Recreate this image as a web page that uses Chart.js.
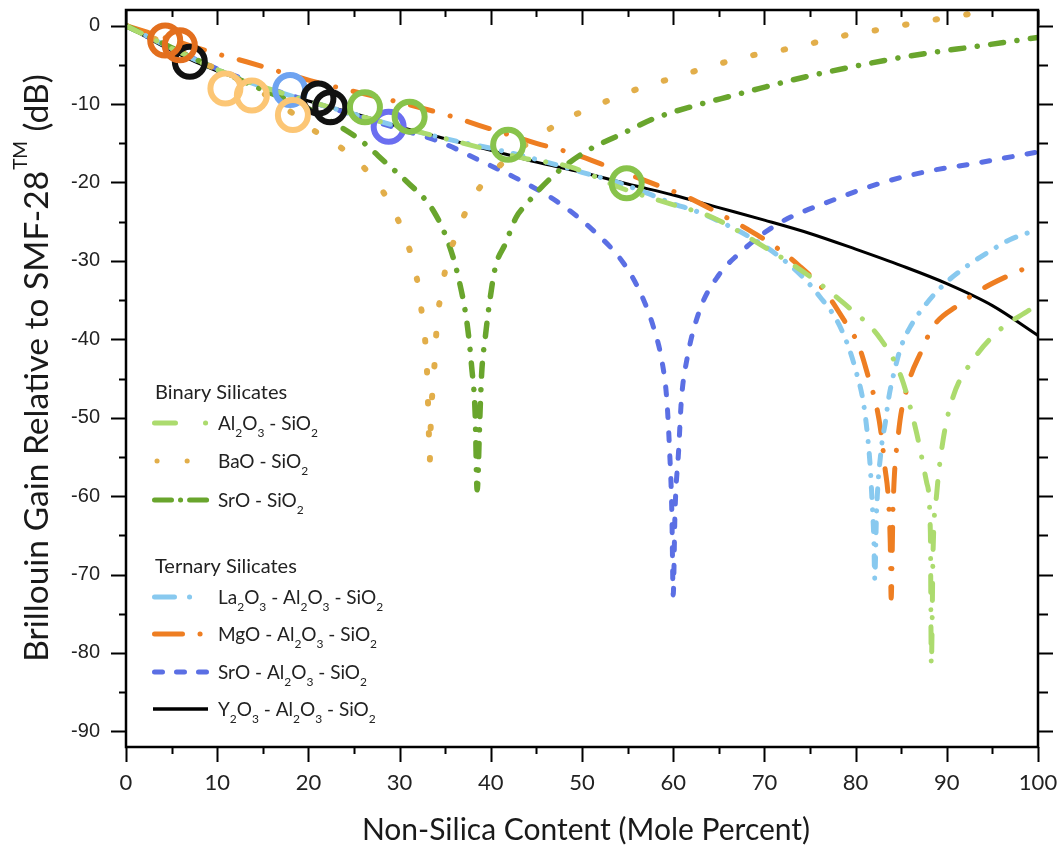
<!DOCTYPE html>
<html>
<head>
<meta charset="utf-8">
<title>Brillouin gain of silicate fibres</title>
<script src="https://cdn.jsdelivr.net/npm/chart.js@4.4.1/dist/chart.umd.min.js"></script>
<style>
  html, body { margin: 0; padding: 0; background: #fff; }
  #wrap { width: 1063px; height: 850px; position: relative; }
</style>
</head>
<body>
<div id="wrap"><canvas id="gainChart"></canvas></div>
<script>
// axis ticks
const xTickValues = [0, 10, 20, 30, 40, 50, 60, 70, 80, 90, 100];
const yTickValues = [0, -10, -20, -30, -40, -50, -60, -70, -80, -90];

// modelled gain curves, mole % vs dB
const al2o3X = [0, 5, 10, 15, 20, 25, 30, 35, 40, 44, 48.7, 54.5, 59.6, 64.2, 70.1, 75, 78.7, 82.7, 85, 86.7, 87.8, 88.2, 88.3, 88.5, 88.9, 89.6, 90.7, 92.9, 95.8, 99];
const al2o3Y = [0, -2.9, -5.6, -7.8, -9.6, -11.3, -12.9, -14.4, -15.9, -17.0, -18.0, -20.8, -22.7, -24.4, -28.3, -32.0, -35.4, -39.9, -44.8, -52.0, -58.3, -64.7, -81.5, -66.8, -59.6, -52.8, -47.3, -42.6, -38.8, -36.3];

const baoX = [0, 5, 10, 15, 18.3, 20.9, 23.5, 26, 28.2, 29.8, 31.1, 31.9, 32.4, 32.8, 33.0, 33.2, 33.3, 33.45, 33.7, 33.9, 34.1, 34.6, 35.2, 36.3, 37.5, 39.3, 47.2, 50.3, 53.4, 56.5, 59.6, 62.9, 66.2, 69.4, 72.8, 76.1, 79.4, 82.7, 86, 89.3, 92.5, 95];
const baoY = [0, -2.7, -5.6, -8.6, -11.2, -13.6, -15.5, -18, -21.2, -24.7, -28.6, -32.3, -36.3, -40.1, -43.9, -51.6, -55.6, -49.4, -45.6, -41.8, -37.9, -33.9, -30.1, -26.5, -23.1, -19.9, -12.6, -10.8, -9.3, -7.9, -6.8, -5.6, -4.5, -3.6, -2.9, -2.0, -1.1, -0.5, 0.25, 0.9, 1.5, 2.1];

const sroX = [0, 5, 10, 15, 20, 22.5, 25.7, 28.6, 30.8, 33.7, 35.5, 36.6, 37.4, 37.9, 38.3, 38.5, 38.8, 39.0, 39.4, 39.9, 40.5, 41.6, 42.8, 43.8, 46.7, 50.2, 54.2, 58, 62.4, 66.6, 69.5, 74.6, 79.4, 83.8, 88.5, 92.9, 100];
const sroY = [0, -2.8, -5.6, -8.2, -10.6, -12.2, -14.6, -17.6, -19.9, -23.6, -28.2, -32.9, -38.0, -43.5, -49.9, -59.2, -49.9, -44.3, -39.7, -35.0, -30.8, -27.8, -24.4, -22.9, -19.3, -16.2, -13.9, -11.8, -10.2, -8.9, -8.0, -6.5, -5.3, -4.3, -3.4, -2.7, -1.5];

const la2o3X = [0, 5, 10, 15, 20, 25, 30, 35, 41, 46.1, 50, 54.2, 57, 60, 62.6, 65.5, 68.6, 71.7, 74.5, 76.1, 77.9, 79.2, 80.1, 80.8, 81.2, 81.6, 81.8, 82.0, 82.1, 82.3, 82.8, 83.3, 83.6, 84.1, 85.0, 86.1, 87.8, 89.6, 91.8, 94.4, 96.9, 100];
const la2o3Y = [0, -2.9, -5.6, -7.8, -9.6, -11.3, -12.9, -14.4, -15.9, -17.4, -18.7, -20.1, -21.3, -22.7, -23.7, -25.2, -27.1, -29.5, -32.4, -34.6, -37.5, -40.9, -44.3, -47.7, -51.1, -56.2, -60.5, -65.5, -70.5, -62, -54.1, -50.3, -47.7, -44.8, -40.9, -38.2, -35.4, -33.1, -31.0, -29.0, -27.3, -26.0];

const mgoX = [0, 5, 10, 13.2, 20.2, 29.7, 35.5, 38.7, 45, 48.7, 52, 58.8, 61.8, 65.1, 68.5, 71.2, 73.7, 76.5, 78.7, 80.3, 81.4, 82.3, 82.8, 83.2, 83.6, 83.8, 83.9, 84.1, 84.7, 85.8, 87.1, 88.5, 91.3, 94, 97.3, 100];
const mgoY = [0, -1.8, -3.6, -4.6, -7.0, -9.7, -11.5, -12.7, -15.0, -16.2, -17.6, -20.6, -22.0, -24.0, -26.2, -28.2, -30.5, -33.7, -37.5, -40.7, -44.8, -48.6, -52.0, -56.2, -60.5, -66, -73.0, -61.7, -52.0, -45.6, -41.8, -38.4, -35.6, -33.5, -31.6, -30.3];

const sroAlX = [0, 5, 10, 15, 20, 25, 30, 34.4, 38.8, 43.2, 47.6, 51.4, 54.5, 56.5, 57.9, 58.8, 59.3, 59.6, 59.85, 60, 60.2, 60.6, 60.9, 61.5, 62.9, 65, 67, 71.3, 77.4, 82.7, 87.8, 92.9, 100];
const sroAlY = [0, -2.9, -5.5, -7.7, -9.6, -11.4, -13.2, -14.8, -17.2, -19.7, -22.7, -26.3, -30.2, -34.3, -38.7, -43, -47.7, -54.1, -62, -72.6, -62, -54.1, -47.7, -42.6, -36.3, -31.8, -29.3, -25.4, -22.3, -20.1, -18.6, -17.6, -16.1];

const y2o3X = [0, 5, 10, 15, 20, 25, 30, 35, 40, 45, 50, 55, 60, 65, 70, 75, 80, 85, 90, 95, 100];
const y2o3Y = [0, -3.2, -5.8, -7.8, -9.6, -11.2, -12.9, -14.4, -15.9, -17.4, -18.7, -20.2, -21.6, -23.2, -24.8, -26.5, -28.5, -30.6, -32.9, -35.7, -39.5];

// measured fibres
const mgoFibreX = [4.3, 5.9];
const mgoFibreY = [-1.9, -2.5];
const y2o3FibreX = [7.0, 21.1, 22.4];
const y2o3FibreY = [-4.6, -9.3, -10.4];
const baoFibreX = [10.9, 13.8, 18.3];
const baoFibreY = [-8.0, -8.9, -11.4];
const la2o3FibreX = [18.0];
const la2o3FibreY = [-8.2];
const sroAlFibreX = [28.8];
const sroAlFibreY = [-12.9];
const sroFibreX = [26.2, 31.1, 41.9, 54.9];
const sroFibreY = [-10.4, -11.6, -15.2, -20.1];

const pts = (xs, ys) => xs.map((x, i) => ({ x: x, y: ys[i] }));

const FONT = 'Lato, "Open Sans", sans-serif';

// curve styles; legend swatches get their own dash since they are short
const curves = [
  { key: 'al2o3', name: 'Al_2O_3 - SiO_2', x: al2o3X, y: al2o3Y, color: '#acdb6e', width: 5, dash: [17, 17, 0.1, 17], swatch: { dash: [21, 30, 0.1, 100], from: 154.5, to: 210 } },
  { key: 'bao', name: 'BaO - SiO_2', x: baoX, y: baoY, color: '#e2ae4a', width: 6, dash: [1.5, 29.5], swatch: { dash: [0.1, 30], from: 157, to: 190 } },
  { key: 'sro', name: 'SrO - SiO_2', x: sroX, y: sroY, color: '#69a52d', width: 5.5, dash: [13, 13.5, 0.1, 13.5], swatch: { dash: [17, 9, 0.1, 9, 17, 50], from: 154.5, to: 207 } },
  { key: 'la2o3', name: 'La_2O_3 - Al_2O_3 - SiO_2', x: la2o3X, y: la2o3Y, color: '#88c9ef', width: 5, dash: [10, 12, 0.1, 12], swatch: { dash: [20, 15, 0.1, 100], from: 154.5, to: 192 } },
  { key: 'mgo', name: 'MgO - Al_2O_3 - SiO_2', x: mgoX, y: mgoY, color: '#ee7e22', width: 5, dash: [23, 18, 0.1, 18], swatch: { dash: [28, 17.5, 0.1, 100], from: 154.5, to: 202 } },
  { key: 'sroAl', name: 'SrO - Al_2O_3 - SiO_2', x: sroAlX, y: sroAlY, color: '#5b6fe4', width: 5, dash: [8, 15], swatch: { dash: [8, 14], from: 154.5, to: 207 } },
  { key: 'y2o3', name: 'Y_2O_3 - Al_2O_3 - SiO_2', x: y2o3X, y: y2o3Y, color: '#000000', width: 3, dash: [], swatch: { dash: [], from: 153, to: 208 } }
];

const fibres = [
  { x: sroFibreX, y: sroFibreY, color: '#88c34b' },
  { x: mgoFibreX, y: mgoFibreY, color: '#e36f1e' },
  { x: baoFibreX, y: baoFibreY, color: '#fcc675' },
  { x: y2o3FibreX, y: y2o3FibreY, color: '#111111' },
  { x: la2o3FibreX, y: la2o3FibreY, color: '#6ea3f1' },
  { x: sroAlFibreX, y: sroAlFibreY, color: '#6b6ef0' }
];

const datasets = [];
fibres.forEach(f => datasets.push({
  type: 'scatter',
  data: pts(f.x, f.y),
  showLine: false,
  pointStyle: 'circle',
  pointRadius: 15,
  pointBorderWidth: 6,
  pointBackgroundColor: 'rgba(0,0,0,0)',
  pointBorderColor: f.color
}));
curves.forEach(c => datasets.push({
  type: 'line',
  label: c.name.replace(/_/g, ''),
  data: pts(c.x, c.y),
  borderColor: c.color,
  borderWidth: c.width,
  borderDash: c.dash,
  borderCapStyle: c.dash.length ? 'round' : 'butt',
  borderJoinStyle: 'round',
  pointRadius: 0,
  fill: false,
  cubicInterpolationMode: 'monotone'
}));

// text with "_n" marking a subscript digit
function drawChem(ctx, text, x, y, size) {
  const parts = text.split(/_(\d)/);
  let cx = x;
  parts.forEach((p, i) => {
    if (!p) return;
    const sub = i % 2 === 1;
    ctx.font = (sub ? Math.round(size * 0.65) : size) + 'px ' + FONT;
    ctx.fillText(p, cx, sub ? y + 7 : y);
    cx += ctx.measureText(p).width;
  });
}

const decorations = {
  id: 'decorations',
  afterDraw(chart) {
    const { ctx, chartArea: a, scales } = chart;
    const sx = scales.x, sy = scales.y;
    ctx.save();

    // frame and tick marks
    ctx.strokeStyle = '#000';
    ctx.lineWidth = 2.5;
    ctx.strokeRect(a.left, a.top, a.right - a.left, a.bottom - a.top);
    ctx.lineWidth = 2;
    ctx.beginPath();
    for (let v = 0; v <= 100; v += 5) {
      const px = Math.round(sx.getPixelForValue(v)) + 0.5;
      const major = v % 10 === 0;
      ctx.moveTo(px, a.bottom); ctx.lineTo(px, a.bottom + (major ? 15 : 7));
      ctx.moveTo(px, a.top); ctx.lineTo(px, a.top + (major ? 15 : 7));
    }
    for (let v = -90; v <= 0; v += 5) {
      const py = Math.round(sy.getPixelForValue(v)) + 0.5;
      const major = v % 10 === 0;
      ctx.moveTo(a.left, py); ctx.lineTo(a.left - (major ? 15 : 7), py);
      ctx.moveTo(a.right, py); ctx.lineTo(a.right + (major ? 15 : 10), py);
    }
    ctx.stroke();

    // axis titles
    ctx.fillStyle = '#1a1a1a';
    ctx.textBaseline = 'middle';
    ctx.textAlign = 'center';
    ctx.font = '30px ' + FONT;
    ctx.fillText('Non-Silica Content (Mole Percent)', 586, 830);

    ctx.save();
    ctx.translate(37, 369);
    ctx.rotate(-Math.PI / 2);
    ctx.textAlign = 'left';
    const t1 = 'Brillouin Gain Relative to SMF-28', sup = 'TM', t2 = ' (dB)';
    ctx.font = '33.5px ' + FONT;
    const w1 = ctx.measureText(t1).width, w3 = ctx.measureText(t2).width;
    ctx.font = '19px ' + FONT;
    const w2 = ctx.measureText(sup).width;
    let cx = -(w1 + w2 + w3) / 2;
    ctx.font = '33.5px ' + FONT;
    ctx.fillText(t1, cx, 0);
    ctx.font = '19px ' + FONT;
    ctx.fillText(sup, cx + w1 + 1, -16);
    ctx.font = '33.5px ' + FONT;
    ctx.fillText(t2, cx + w1 + w2 + 2, 0);
    ctx.restore();

    // legend
    ctx.textAlign = 'left';
    ctx.textBaseline = 'alphabetic';
    ctx.fillStyle = '#222';
    ctx.font = '20px ' + FONT;
    ctx.fillText('Binary Silicates', 155, 399);
    ctx.fillText('Ternary Silicates', 155, 573);
    const rows = [423, 461, 500, 597, 634, 672, 709];
    curves.forEach((c, i) => {
      const ry = rows[i];
      ctx.save();
      ctx.strokeStyle = c.color;
      ctx.lineWidth = c.key === 'y2o3' ? 3.5 : 5;
      ctx.lineCap = c.swatch.dash.length ? 'round' : 'butt';
      ctx.setLineDash(c.swatch.dash);
      ctx.beginPath();
      ctx.moveTo(c.swatch.from, ry);
      ctx.lineTo(c.swatch.to, ry);
      ctx.stroke();
      ctx.restore();
      drawChem(ctx, c.name, 218, ry + 7, 19);
    });
    ctx.restore();
  }
};

new Chart(document.getElementById('gainChart'), {
  data: { datasets: datasets },
  options: {
    responsive: true,
    maintainAspectRatio: false,
    animation: false,
    layout: { autoPadding: false, padding: { top: 10, right: 25, left: 0, bottom: 0 } },
    plugins: { legend: { display: false }, tooltip: { enabled: false } },
    scales: {
      x: {
        type: 'linear', min: 0, max: 100,
        grid: { display: false, drawTicks: false },
        border: { display: false },
        afterBuildTicks: axis => { axis.ticks = xTickValues.map(v => ({ value: v })); },
        ticks: { font: { family: FONT, size: 22 }, color: '#222', padding: 23, maxRotation: 0 },
        afterFit: s => { s.height = 103; s.paddingLeft = 0; s.paddingRight = 0; }
      },
      y: {
        type: 'linear', min: -92, max: 2,
        grid: { display: false, drawTicks: false },
        border: { display: false },
        afterBuildTicks: axis => { axis.ticks = yTickValues.map(v => ({ value: v })); },
        ticks: { font: { family: '"Liberation Sans", Arial, sans-serif', size: 20 }, color: '#222', padding: 26 },
        afterFit: s => { s.width = 126; s.paddingTop = 0; s.paddingBottom = 0; }
      }
    }
  },
  plugins: [decorations]
});
</script>
</body>
</html>
